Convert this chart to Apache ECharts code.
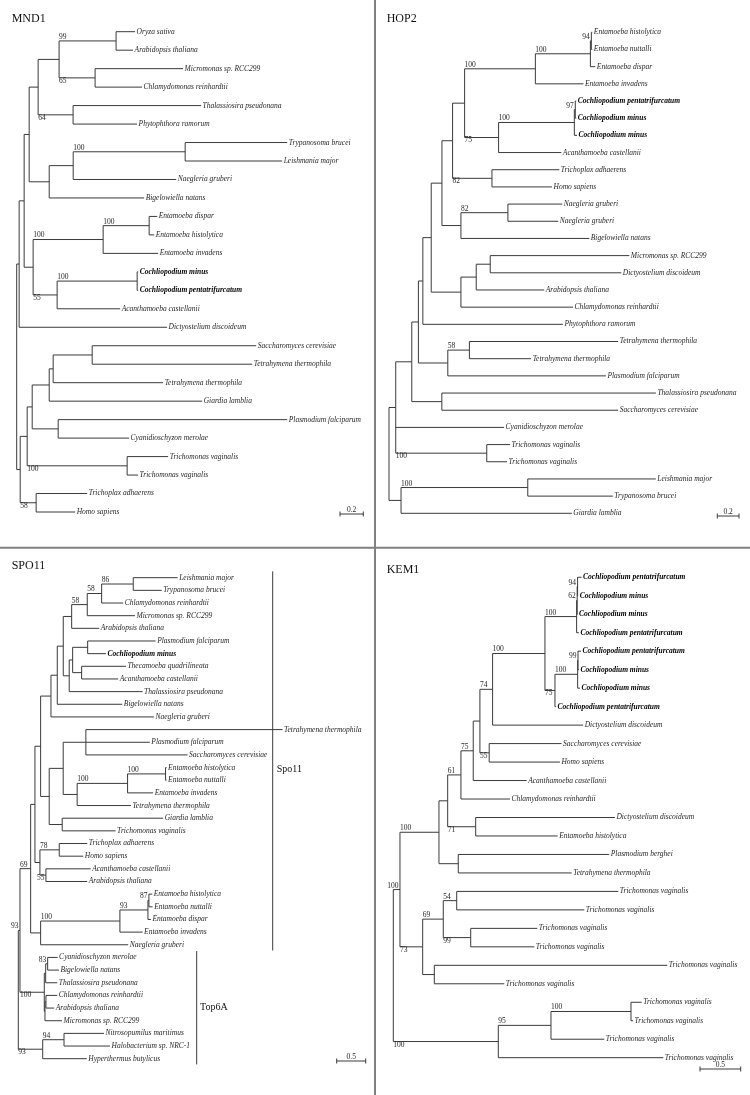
<!DOCTYPE html>
<html><head><meta charset="utf-8">
<script src="https://cdn.jsdelivr.net/npm/echarts@6/dist/echarts.min.js"></script>
<style>html,body{margin:0;padding:0;background:#fff}#c{width:750px;height:1095px}</style>
</head><body><div id="c"></div>
<script>
// ---------------- DATA ----------------
const panelTitles = ['MND1', 'HOP2', 'SPO11', 'KEM1'];
const scaleBarLengths = [0.2, 0.2, 0.5, 0.5];

// Trees as Newick (branch lengths in substitutions/site, internal labels = bootstrap)
const treeMND1 = "((((((('Oryza sativa':0.163,'Arabidopsis thaliana':0.146)99:0.489,('Micromonas sp. RCC299':0.755,'Chlamydomonas reinhardtii':0.403)65:0.309):0.180,('Thalassiosira pseudonana':1.099,'Phytophthora ramorum':0.549)64:0.300):0.077,((('Trypanosoma brucei':0.876,'Leishmania major':0.833)100:0.961,'Naegleria gruberi':0.884):0.206,'Bigelowiella natans':0.815):0.172):0.043,((('Entamoeba dispar':0.069,'Entamoeba histolytica':0.043)100:0.395,'Entamoeba invadens':0.472)100:0.601,(('Cochliopodium minus':0.009,'Cochliopodium pentatrifurcatum':0.009)100:0.687,'Acanthamoeba castellanii':0.541)55:0.206):0.077):0.043,'Dictyostelium discoideum':1.270):0.021,(((((('Saccharomyces cerevisiae':1.408,'Tetrahymena thermophila':1.373):0.335,'Tetrahymena thermophila':0.944):0.034,'Giardia lamblia':1.313):0.146,('Plasmodium falciparum':1.966,'Cyanidioschyzon merolae':0.609):0.223):0.043,('Trichomonas vaginalis':0.352,'Trichomonas vaginalis':0.094)100:0.858):0.060,('Trichoplax adhaerens':0.438,'Homo sapiens':0.335)58:0.137):0.030);";

const treeHOP2 = "(((((((((((('Entamoeba histolytica':0.009,'Entamoeba nuttalli':0.009)94:0.009,'Entamoeba dispar':0.046)100:0.507,'Entamoeba invadens':0.443)100:0.652,((('Cochliopodium pentatrifurcatum':0.009,'Cochliopodium minus':0.009)97:0.009,'Cochliopodium minus':0.025)100:0.698,'Acanthamoeba castellanii':0.578)75:0.313):0.111,('Trichoplax adhaerens':0.621,'Homo sapiens':0.553)82:0.363):0.098,(('Naegleria gruberi':0.501,'Naegleria gruberi':0.464)82:0.433,'Bigelowiella natans':1.183):0.175):0.099,((('Micromonas sp. RCC299':1.282,'Dictyostelium discoideum':1.208):0.129,'Arabidopsis thaliana':0.627):0.141,'Chlamydomonas reinhardtii':1.033):0.274):0.077,'Phytophthora ramorum':1.291):0.041,(('Tetrahymena thermophila':1.371,'Tetrahymena thermophila':0.569)58:0.199,'Plasmodium falciparum':1.457):0.271):0.061,('Thalassiosira pseudonana':1.973,'Saccharomyces cerevisiae':1.625):0.277):0.148,'Cyanidioschyzon merolae':0.999,('Trichomonas vaginalis':0.215,'Trichomonas vaginalis':0.187)100:0.839):0.062,(('Leishmania major':1.180,'Trypanosoma brucei':0.784)100:1.168,'Giardia lamblia':1.574):0.111);";

const treeSPO11 = "(((((((((((('Leishmania major':0.765,'Trypanosoma brucei':0.490)86:0.545,'Chlamydomonas reinhardtii':0.372)58:0.248,'Micromonas sp. RCC299':0.822)58:0.269,'Arabidopsis thaliana':0.476):0.145,((('Plasmodium falciparum':1.172,'Cochliopodium minus':0.316):0.259,('Thecamoeba quadrilineata':0.764,'Acanthamoeba castellanii':0.631):0.155):0.059,'Thalassiosira pseudonana':1.265):0.103):0.103,'Bigelowiella natans':1.121):0.109,'Naegleria gruberi':1.776):0.178,((('Tetrahymena thermophila':3.391,'Plasmodium falciparum':1.103,'Saccharomyces cerevisiae':1.753):0.391,((('Entamoeba histolytica':0.017,'Entamoeba nuttalli':0.017)100:0.655,'Entamoeba invadens':0.441)100:0.869,'Tetrahymena thermophila':0.926):0.241):0.241,('Giardia lamblia':1.741,'Trichomonas vaginalis':0.921):0.224):0.148):0.098,(('Trichoplax adhaerens':0.483,'Homo sapiens':0.414)78:0.333,('Acanthamoeba castellanii':0.771,'Arabidopsis thaliana':0.712)55:0.103):0.086):0.074,(((('Entamoeba histolytica':0.057,'Entamoeba nuttalli':0.064)87:0.017,'Entamoeba dispar':0.052)93:0.483,'Entamoeba invadens':0.391)100:1.367,'Naegleria gruberi':1.510):0.172)69:0.184,((('Cyanidioschyzon merolae':0.172,'Bigelowiella natans':0.195)83:0.034,'Thalassiosira pseudonana':0.200):0.024,(('Chlamydomonas reinhardtii':0.195,'Arabidopsis thaliana':0.143):0.017,'Micromonas sp. RCC299':0.293):0.012)100:0.419)93:0.029,(('Nitrosopumilus maritimus':0.690,'Halobacterium sp. NRC-1':0.793)94:0.367,'Hyperthermus butylicus':0.759)93:0.421);";

const treeKEM1 = "(((((((((((('Cochliopodium pentatrifurcatum':0.049,'Cochliopodium minus':0.007)94:0.005,'Cochliopodium minus':0.005)62:0.007,'Cochliopodium pentatrifurcatum':0.028)100:0.389,((('Cochliopodium pentatrifurcatum':0.037,'Cochliopodium minus':0.012)99:0.004,'Cochliopodium minus':0.028)100:0.279,'Cochliopodium pentatrifurcatum':0.012)75:0.123)100:0.643,'Dictyostelium discoideum':1.113)74:0.156,('Saccharomyces cerevisiae':0.889,'Homo sapiens':0.869)55:0.114):0.082,'Acanthamoeba castellanii':0.656)75:0.151,'Chlamydomonas reinhardtii':0.602)61:0.163,('Dictyostelium discoideum':1.711,'Entamoeba histolytica':1.007)71:0.344):0.107,('Plasmodium berghei':1.855,'Tetrahymena thermophila':1.393):0.237)100:0.479,((('Trichomonas vaginalis':1.985,'Trichomonas vaginalis':1.568)54:0.165,('Trichomonas vaginalis':0.818,'Trichomonas vaginalis':0.781)99:0.337)69:0.253,('Trichomonas vaginalis':2.862,'Trichomonas vaginalis':0.860):0.143)73:0.279)100:0.082,((('Trichomonas vaginalis':0.131,'Trichomonas vaginalis':0.025)100:0.983,'Trichomonas vaginalis':0.655)95:0.647,'Trichomonas vaginalis':2.027)100:1.290);";

// SPO11 clade brackets (leaf index ranges)
const bracketNames = ['Spo11', 'Top6A'];
const bracketFrom = [0, 30];
const bracketTo = [29, 38];

// ---------------- LAYOUT / STYLE ----------------
const SERIF = '"Liberation Serif", "Times New Roman", serif';
const LINE = '#3a3a3a';
const TEXT = '#262626';
const FS = 7.5;
const PANELS = [
  {left: 16.7, top: 31.7, bottom: 512.0, ppu: 116.5, title: [11.7, 19.2], bar: [363.3, 514]},
  {left: 389.0, top: 32.3, bottom: 513.3, ppu: 108.5, title: [386.7, 19.2], bar: [739.0, 516]},
  {left: 18.3, top: 577.7, bottom: 1058.7, ppu: 58.0, title: [11.7, 565.9], bar: [365.7, 1061]},
  {left: 393.3, top: 577.3, bottom: 1057.7, ppu: 81.4, title: [386.7, 569.4], bar: [740.7, 1069]}
];
const BRACKET_LAYOUT = [
  {x: 272.7, labelX: 276.7, labelDy: 8.5},
  {x: 196.7, labelX: 200.0, labelDy: 0}
];

function parseNewick(s) {
  let i = 0;
  function node() {
    const n = {children: [], name: '', support: '', length: 0};
    if (s[i] === '(') {
      i++;
      n.children.push(node());
      while (s[i] === ',') { i++; n.children.push(node()); }
      i++;
      let lab = '';
      while (i < s.length && /[0-9.]/.test(s[i])) lab += s[i++];
      n.support = lab;
    } else if (s[i] === "'") {
      i++;
      let nm = '';
      while (s[i] !== "'") nm += s[i++];
      i++;
      n.name = nm;
    }
    if (s[i] === ':') {
      i++;
      let num = '';
      while (i < s.length && /[0-9.eE+\-]/.test(s[i])) num += s[i++];
      n.length = parseFloat(num);
    }
    return n;
  }
  return node();
}

function layoutTree(root) {
  const nodes = [];
  let leaf = 0;
  (function walk(n, depth, parent) {
    n.parent = parent;
    n.x = parent ? depth + n.length : 0;
    if (!n.children.length) n.y = leaf++;
    else {
      n.children.forEach(c => walk(c, n.x, n));
      n.y = (n.children[0].y + n.children[n.children.length - 1].y) / 2;
    }
    nodes.push(n);
  })(root, 0, null);
  return {nodes, nLeaves: leaf};
}

function makeTreeRender(nodes) {
  return function (params, api) {
    const n = nodes[params.dataIndex];
    const p = api.coord([api.value(0), api.value(1)]);
    const px = api.coord([api.value(2), api.value(1)])[0];
    const ls = {stroke: LINE, lineWidth: 1};
    const els = [];
    if (n.parent) els.push({type: 'line', shape: {x1: px, y1: p[1], x2: p[0], y2: p[1]}, style: ls});
    if (n.children.length) {
      const y0 = api.coord([api.value(0), api.value(3)])[1];
      const y1 = api.coord([api.value(0), api.value(4)])[1];
      els.push({type: 'line', shape: {x1: p[0], y1: y0, x2: p[0], y2: y1}, style: ls});
    } else {
      const bold = /^Cochliopodium/.test(n.name);
      els.push({type: 'text', x: p[0] + 1.5, y: p[1], style: {
        text: n.name, fontFamily: SERIF, fontSize: FS, fontStyle: 'italic',
        fontWeight: bold ? 'bold' : 'normal', fill: bold ? '#000' : TEXT,
        align: 'left', verticalAlign: 'middle'}});
    }
    if (n.support && n.parent) {
      const above = n.parent.children[0] === n;
      const w = n.support.length * FS * 0.5;
      const fits = (p[0] - px) >= w + 1;
      els.push({type: 'text', x: fits ? px : p[0] - 1.5, y: above ? p[1] : p[1] - 1, style: {
        text: n.support, fontFamily: SERIF, fontSize: FS, fill: TEXT,
        align: fits ? 'left' : 'right', verticalAlign: above ? 'bottom' : 'top'}});
    }
    return {type: 'group', children: els};
  };
}

function makeBarRender(L) {
  return function (params, api) {
    const len = api.size([api.value(0), 0])[0];
    const x1 = L.bar[0], x0 = x1 - len, y = L.bar[1];
    const ls = {stroke: LINE, lineWidth: 1};
    return {type: 'group', children: [
      {type: 'line', shape: {x1: x0, y1: y, x2: x1, y2: y}, style: ls},
      {type: 'line', shape: {x1: x0, y1: y - 2.5, x2: x0, y2: y + 2.5}, style: ls},
      {type: 'line', shape: {x1: x1, y1: y - 2.5, x2: x1, y2: y + 2.5}, style: ls},
      {type: 'text', x: (x0 + x1) / 2, y: y + 0.5, style: {text: String(api.value(0)), fontFamily: SERIF,
        fontSize: FS, fill: TEXT, align: 'center', verticalAlign: 'bottom'}}
    ]};
  };
}

function bracketRender(params, api) {
  const B = BRACKET_LAYOUT[params.dataIndex];
  const y0 = api.coord([0, api.value(0)])[1];
  const y1 = api.coord([0, api.value(1)])[1];
  return {type: 'group', children: [
    {type: 'line', shape: {x1: B.x, y1: y0, x2: B.x, y2: y1}, style: {stroke: LINE, lineWidth: 1}},
    {type: 'text', x: B.labelX, y: (y0 + y1) / 2 + B.labelDy, style: {text: bracketNames[params.dataIndex],
      fontFamily: SERIF, fontSize: 10, fill: '#111', align: 'left', verticalAlign: 'middle'}}
  ]};
}

const trees = [treeMND1, treeHOP2, treeSPO11, treeKEM1].map(parseNewick).map(layoutTree);
const grid = [], xAxis = [], yAxis = [], series = [], graphic = [];
trees.forEach((t, i) => {
  const L = PANELS[i];
  const W = 345;
  grid.push({left: L.left, top: L.top, width: W, height: L.bottom - L.top});
  xAxis.push({type: 'value', gridIndex: i, min: 0, max: W / L.ppu, show: false});
  yAxis.push({type: 'value', gridIndex: i, min: 0, max: t.nLeaves - 1, inverse: true, show: false});
  series.push({
    type: 'custom', xAxisIndex: i, yAxisIndex: i, silent: true,
    data: t.nodes.map(n => [n.x, n.y, n.parent ? n.parent.x : n.x,
      n.children.length ? n.children[0].y : n.y,
      n.children.length ? n.children[n.children.length - 1].y : n.y]),
    encode: {x: [0, 2], y: [1, 3, 4]},
    renderItem: makeTreeRender(t.nodes)
  });
  series.push({
    type: 'custom', xAxisIndex: i, yAxisIndex: i, silent: true,
    data: [[scaleBarLengths[i], 0]], encode: {x: 0, y: 1},
    renderItem: makeBarRender(L)
  });
  graphic.push({type: 'text', x: L.title[0], y: L.title[1], style: {text: panelTitles[i],
    fontFamily: SERIF, fontSize: 12, fill: '#111', verticalAlign: 'middle'}});
});
series.push({
  type: 'custom', xAxisIndex: 2, yAxisIndex: 2, silent: true,
  data: bracketNames.map((b, k) => [bracketFrom[k] - 0.5, bracketTo[k] + 0.45]),
  encode: {y: [0, 1]},
  renderItem: bracketRender
});
graphic.push({type: 'line', shape: {x1: 375, y1: 0, x2: 375, y2: 1095}, style: {stroke: '#808080', lineWidth: 2}});
graphic.push({type: 'line', shape: {x1: 0, y1: 547.8, x2: 750, y2: 547.8}, style: {stroke: '#808080', lineWidth: 2}});

const chart = echarts.init(document.getElementById('c'), null, {renderer: 'canvas'});
chart.setOption({animation: false, backgroundColor: '#fff', grid, xAxis, yAxis, series, graphic});
</script></body></html>
